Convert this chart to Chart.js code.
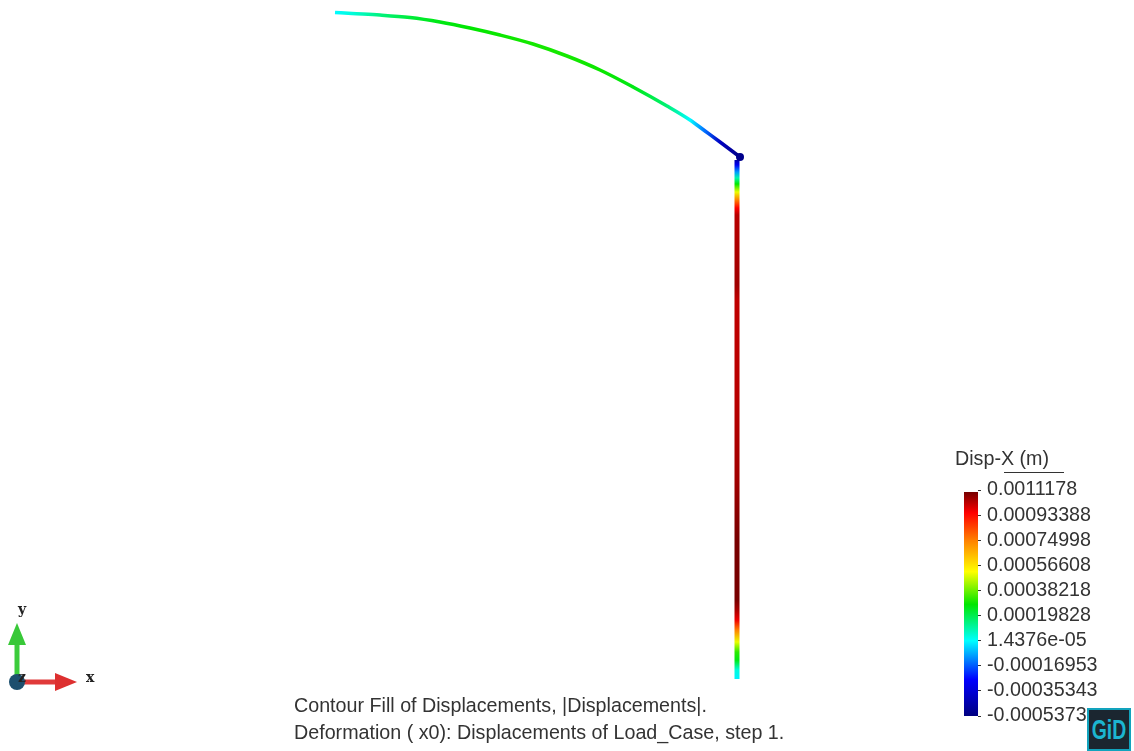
<!DOCTYPE html>
<html>
<head>
<meta charset="utf-8">
<title>Disp-X</title>
<script src="https://cdn.jsdelivr.net/npm/chart.js@4"></script>
<style>
  html, body { margin: 0; padding: 0; background: #fff; overflow: hidden; }
  #page { position: relative; width: 1134px; height: 751px; overflow: hidden; filter: blur(0.45px); }
  canvas { position: absolute; }
  #frame { left: 0; top: 0; }
  #bar { left: 950px; top: 480px; }
  .txt { position: absolute; white-space: nowrap; color: #333; font-family: "Liberation Sans", Arial, sans-serif; font-size: 19.7px; line-height: 22px; }
  .axis { position: absolute; color: #222; font-family: "DejaVu Serif", serif; font-weight: bold; font-size: 14px; line-height: 16px; }
  #rule { position: absolute; left: 1004px; top: 472px; width: 60px; height: 1px; background: #333; }
  #logo { position: absolute; left: 1087px; top: 708px; width: 40px; height: 39px; background: #1b2630; border: 2px solid #12a3bd; color: #1cb5d0; font-family: "Liberation Sans", Arial, sans-serif; font-weight: bold; font-size: 27px; line-height: 41px; text-align: center; overflow: hidden; }
  #logo span { display: inline-block; transform: scaleX(0.72); margin: 0 -10px; }
</style>
</head>
<body>
<div id="page">
  <canvas id="frame" width="1134" height="751"></canvas>
  <canvas id="bar" width="184" height="250"></canvas>
  <div class="txt" style="left:955px;top:447px">Disp-X (m)</div>
  <div id="rule"></div>
  <div class="txt" style="left:294px;top:694px">Contour Fill of Displacements, |Displacements|.</div>
  <div class="txt" style="left:294px;top:721px">Deformation ( x0): Displacements of Load_Case, step 1.</div>
  <div class="axis" style="left:18px;top:601px">y</div>
  <div class="axis" style="left:18px;top:669px">z</div>
  <div class="axis" style="left:86px;top:669px">x</div>
  <div id="logo"><span>GiD</span></div>
</div>
<script>
// values
const archX = [335, 352, 380, 410, 440, 470, 500, 533, 567, 600, 633, 667, 690, 705, 720, 740];
const archY = [12.5, 13.5, 15, 17.5, 22, 28, 35, 44, 56, 70, 87, 106, 120, 131, 142, 157];
const archDisp = [0.00001, 0.00005, 0.00015, 0.00022, 0.00026, 0.00028, 0.00029, 0.0003, 0.0003, 0.00029, 0.00026, 0.00016, 0.00001, -0.00015, -0.0004, -0.00053];

const columnX = 737;
const columnY = [160, 165, 172, 178, 184, 192, 200, 208, 215, 285, 300, 400, 480, 540, 600, 610, 620, 630, 642, 652, 660, 670, 679];
const columnDisp = [-0.00045, -0.0003, -0.0001, 0.0001, 0.00028, 0.0005, 0.00075, 0.00095, 0.00104, 0.00107, 0.00103, 0.00104, 0.00107, 0.00112, 0.00112, 0.00106, 0.00097, 0.00075, 0.0005, 0.00032, 0.00026, 0.00005, 0];

const nodeX = [740];
const nodeY = [157];

const tickValues = [0.0011178, 0.00093388, 0.00074998, 0.00056608, 0.00038218, 0.00019828, 0.000014376, -0.00016953, -0.00035343, -0.0005373];
const tickLabels = ["0.0011178", "0.00093388", "0.00074998", "0.00056608", "0.00038218", "0.00019828", "1.4376e-05", "-0.00016953", "-0.00035343", "-0.0005373"];
const barRange = [-0.0005373, 0.0011];

// colour map: value -> rgb
const mapValues = [-0.00054, -0.00027, 0.000014, 0.00028, 0.00052, 0.00075, 0.00095, 0.00112];
const mapColors = [[0, 0, 128], [0, 0, 255], [0, 255, 255], [0, 230, 0], [255, 255, 0], [255, 128, 0], [255, 0, 0], [120, 0, 0]];

function colorFor(v) {
  if (v <= mapValues[0]) return "rgb(" + mapColors[0] + ")";
  for (let i = 1; i < mapValues.length; i++) {
    if (v <= mapValues[i]) {
      const t = (v - mapValues[i - 1]) / (mapValues[i] - mapValues[i - 1]);
      const a = mapColors[i - 1], b = mapColors[i];
      return "rgb(" + a.map((c, k) => Math.round(c + (b[k] - c) * t)) + ")";
    }
  }
  return "rgb(" + mapColors[mapColors.length - 1] + ")";
}

function archGradient(ctx) {
  const x = ctx.chart.scales.x;
  if (!x) return "#0c0";
  const first = x.getPixelForValue(archX[0]), last = x.getPixelForValue(archX[archX.length - 1]);
  if (!isFinite(first) || !isFinite(last)) return "#0c0";
  const g = ctx.chart.ctx.createLinearGradient(first, 0, last, 0);
  archX.forEach((v, i) => g.addColorStop((x.getPixelForValue(v) - first) / (last - first), colorFor(archDisp[i])));
  return g;
}

function columnGradient(ctx) {
  const y = ctx.chart.scales.y;
  if (!y) return "#c00";
  const first = y.getPixelForValue(columnY[0]), last = y.getPixelForValue(columnY[columnY.length - 1]);
  if (!isFinite(first) || !isFinite(last)) return "#c00";
  const g = ctx.chart.ctx.createLinearGradient(0, first, 0, last);
  columnY.forEach((v, i) => g.addColorStop((y.getPixelForValue(v) - first) / (last - first), colorFor(columnDisp[i])));
  return g;
}

// arrow heads for the little xyz triad
function arrowHead(color, up) {
  const c = document.createElement("canvas");
  c.width = 24; c.height = 24;
  const g = c.getContext("2d");
  g.fillStyle = color;
  g.beginPath();
  if (up) { g.moveTo(12, 1); g.lineTo(21, 23); g.lineTo(3, 23); }
  else { g.moveTo(23, 12); g.lineTo(1, 3); g.lineTo(1, 21); }
  g.closePath();
  g.fill();
  return c;
}

const pts = (xs, ys) => xs.map((x, i) => ({ x: x, y: ys[i] }));

new Chart(document.getElementById("frame"), {
  type: "scatter",
  data: {
    datasets: [
      { data: pts([17], [682]), pointRadius: 8, pointBackgroundColor: "#1c4f6e", pointBorderWidth: 0 },
      { data: pts(nodeX, nodeY), pointRadius: 4, pointBackgroundColor: "#00008c", pointBorderWidth: 0 },
      { data: pts([66], [682]), pointStyle: arrowHead("#dd2f2f", false) },
      { data: pts([17], [634]), pointStyle: arrowHead("#38c838", true) },
      { data: pts([17, 60], [682, 682]), showLine: true, borderColor: "#e03a3a", borderWidth: 5, pointRadius: 0 },
      { data: pts([17, 17], [682, 640]), showLine: true, borderColor: "#3ccc3c", borderWidth: 5, pointRadius: 0 },
      { data: pts(archX, archY), showLine: true, borderColor: archGradient, borderWidth: 3.5, cubicInterpolationMode: "monotone", pointRadius: 0 },
      { data: columnY.map(y => ({ x: columnX, y: y })), showLine: true, borderColor: columnGradient, borderWidth: 5, pointRadius: 0 }
    ]
  },
  options: {
    responsive: false,
    animation: false,
    layout: { padding: 0, autoPadding: false },
    plugins: { legend: { display: false }, tooltip: { enabled: false }, title: { display: false } },
    scales: {
      x: { type: "linear", display: false, min: 0, max: 1134 },
      y: { type: "linear", display: false, min: 0, max: 751, reverse: true }
    }
  }
});

new Chart(document.getElementById("bar"), {
  type: "bar",
  data: {
    labels: ["Disp-X"],
    datasets: [{
      data: [barRange],
      barPercentage: 1,
      categoryPercentage: 1,
      backgroundColor: function (ctx) {
        const y = ctx.chart.scales.y;
        if (!y) return "#0c0";
        const top = y.getPixelForValue(barRange[1]), bottom = y.getPixelForValue(barRange[0]);
        if (!isFinite(top) || !isFinite(bottom)) return "#0c0";
        const g = ctx.chart.ctx.createLinearGradient(0, bottom, 0, top);
        mapValues.forEach((v, i) => {
          const p = (y.getPixelForValue(v) - bottom) / (top - bottom);
          g.addColorStop(Math.min(1, Math.max(0, p)), colorFor(v));
        });
        return g;
      }
    }]
  },
  options: {
    responsive: false,
    animation: false,
    layout: { padding: { left: 14, top: 10, bottom: 14, right: 0 }, autoPadding: false },
    plugins: { legend: { display: false }, tooltip: { enabled: false } },
    scales: {
      x: { display: false },
      y: {
        position: "right",
        min: -0.0005373,
        max: 0.0011178,
        afterBuildTicks: function (axis) { axis.ticks = tickValues.map(v => ({ value: v })); },
        afterFit: function (axis) { axis.width = 156; axis.paddingTop = 0; axis.paddingBottom = 0; },
        border: { display: false },
        grid: { drawOnChartArea: false, drawTicks: true, tickLength: 3, color: "#333" },
        ticks: {
          autoSkip: false,
          padding: 6,
          color: "#333",
          font: { family: '"Liberation Sans", Arial, sans-serif', size: 19.7 },
          callback: function (value, index) { return tickLabels[index]; }
        }
      }
    }
  }
});
</script>
</body>
</html>
